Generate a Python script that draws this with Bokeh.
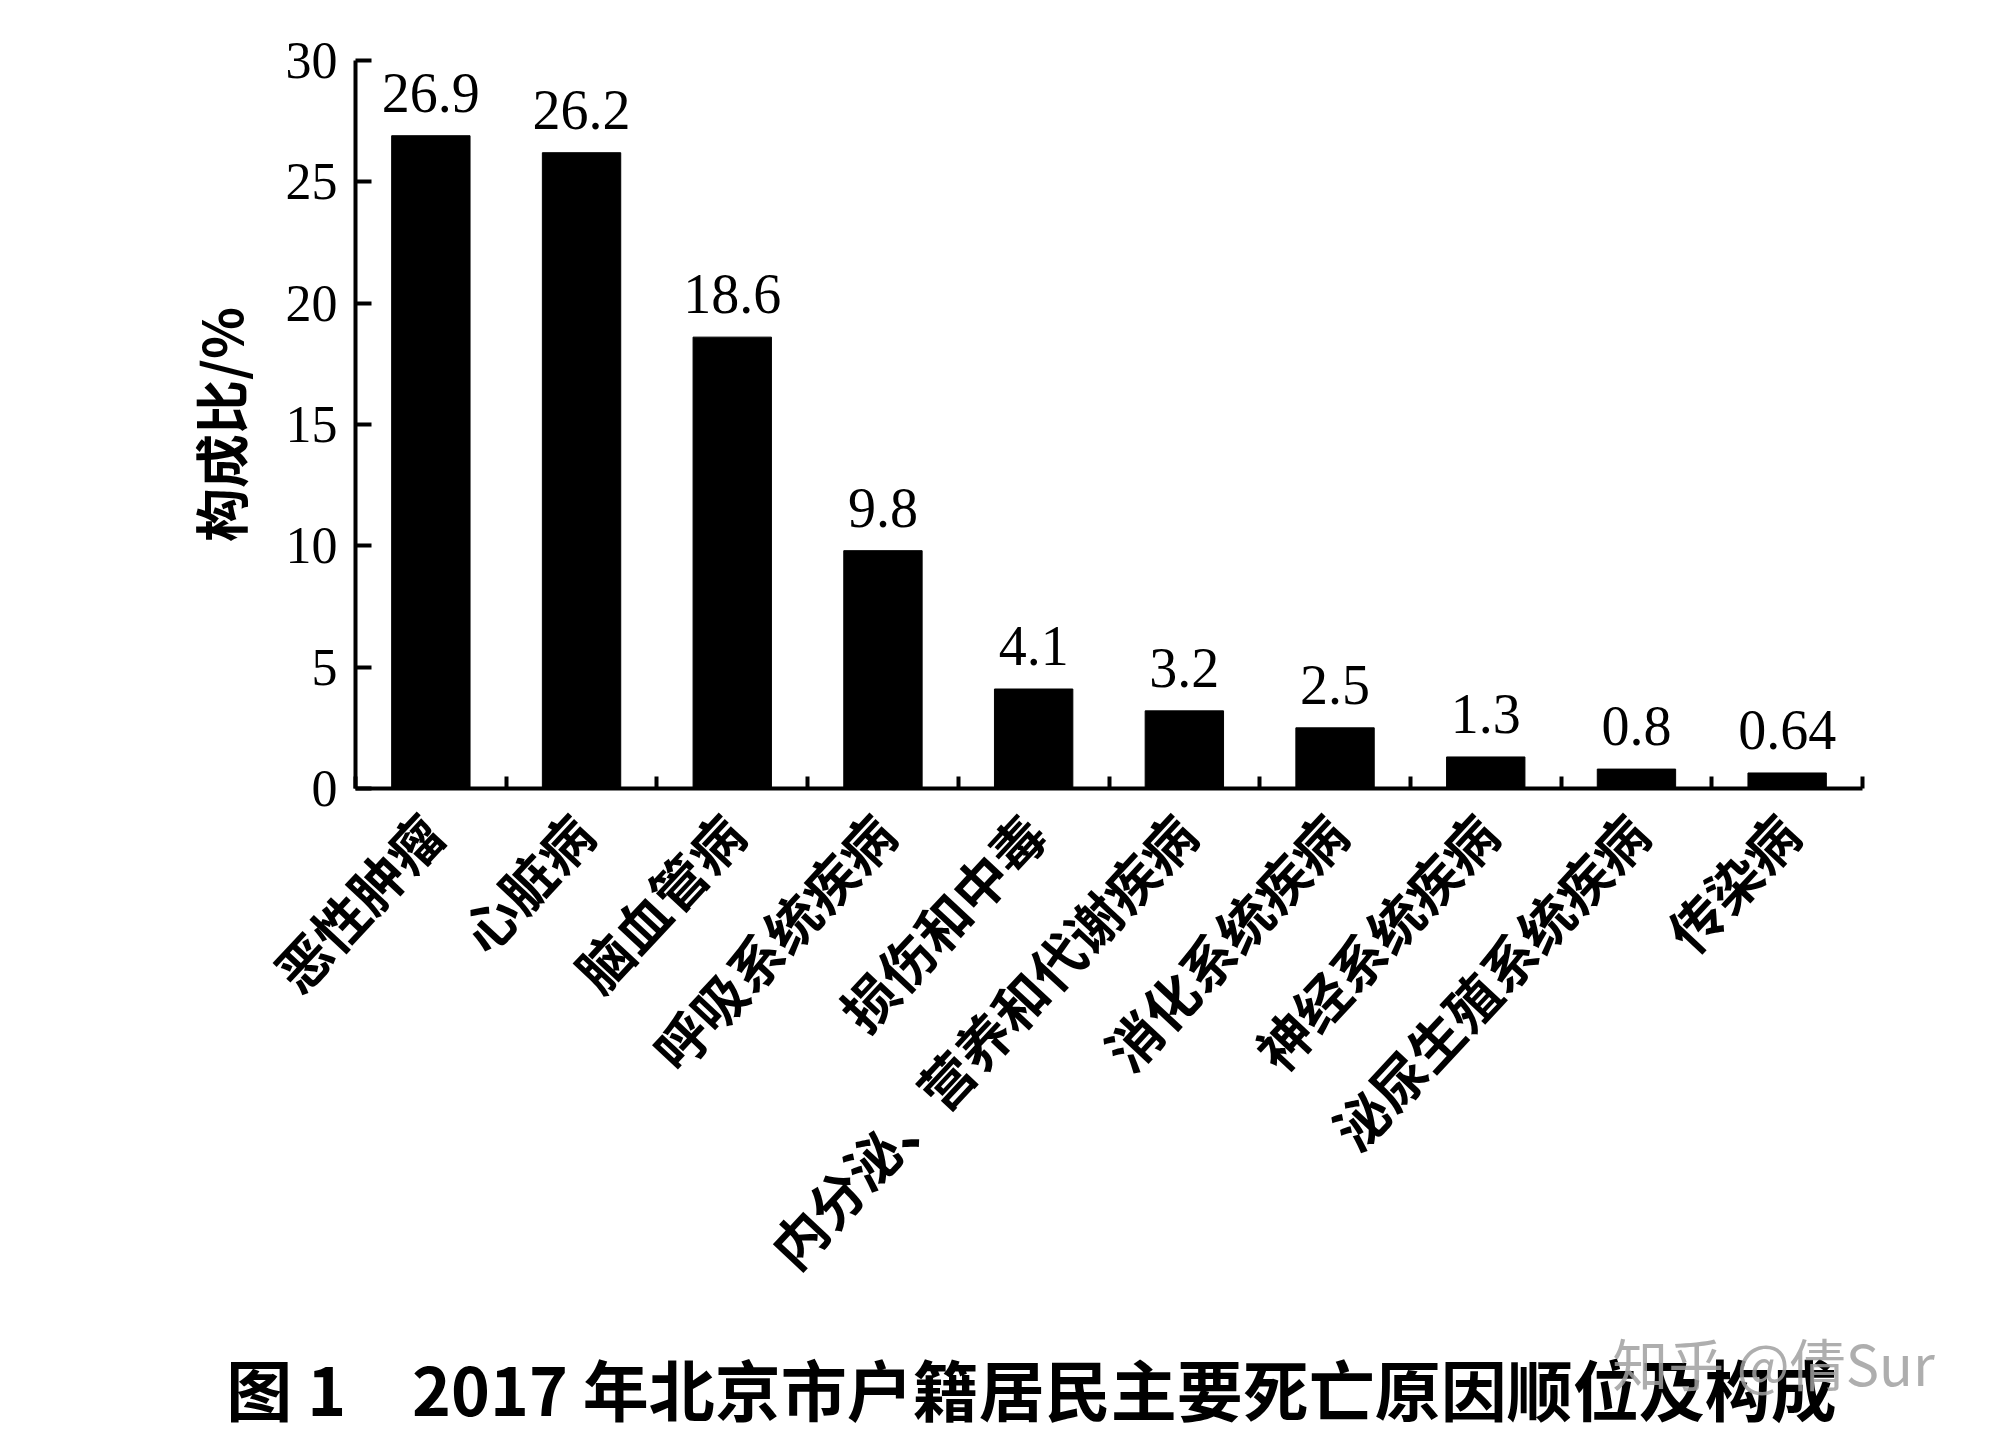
import math
from bokeh.plotting import figure
from bokeh.models import ColumnDataSource, FixedTicker, Range1d
from bokeh.core.properties import value
from bokeh.embed import file_html
from bokeh.resources import INLINE

# ---- data ----
categories = ["恶性肿瘤", "心脏病", "脑血管病", "呼吸系统疾病", "损伤和中毒",
              "内分泌、营养和代谢疾病", "消化系统疾病", "神经系统疾病",
              "泌尿生殖系统疾病", "传染病"]
values = [26.9, 26.2, 18.6, 9.8, 4.1, 3.2, 2.5, 1.3, 0.8, 0.64]
value_labels = ["26.9", "26.2", "18.6", "9.8", "4.1", "3.2", "2.5", "1.3", "0.8", "0.64"]
y_ticks = [0, 5, 10, 15, 20, 25, 30]
y_label = "构成比/%"
title_text = "图 1　2017 年北京市户籍居民主要死亡原因顺位及构成"
watermark_text = "知乎 @倩Sur"

n = len(categories)
centers = [i + 0.5 for i in range(n)]
boundaries = list(range(n + 1))

src = ColumnDataSource(dict(x=centers, v=values, lab=value_labels))

W = 1980
H1 = 1318
H2 = 120
p = figure(width=W, height=H1, x_range=Range1d(0, n), y_range=Range1d(0, y_ticks[-1]),
           output_backend="svg", toolbar_location=None,
           min_border_left=355, min_border_right=W - 1862, min_border_top=60,
           min_border_bottom=H1 - 788)
p.outline_line_color = None
p.xgrid.visible = False
p.ygrid.visible = False
p.background_fill_color = "white"
p.border_fill_color = "white"

p.vbar(x="x", top="v", width=0.52, source=src, fill_color="black", line_color="black")
p.text(x="x", y="v", text="lab", source=src, text_align="center",
       text_baseline="alphabetic", y_offset=-43,
       text_font=value("Liberation Serif"), text_font_size="56px", text_color="black")

# x axis
xa = p.xaxis[0]
xa.ticker = FixedTicker(ticks=centers, minor_ticks=boundaries)
xa.major_label_overrides = {c: cat for c, cat in zip(centers, categories)}
xa.major_label_orientation = math.radians(47)
xa.major_label_text_font = "Noto Sans CJK SC"
xa.major_label_text_font_style = "bold"
xa.major_label_text_font_size = "54px"
xa.major_label_text_color = "black"
xa.major_label_standoff = 34
xa.major_tick_in = 0
xa.major_tick_out = 0
xa.minor_tick_in = 12
xa.minor_tick_out = 0
xa.minor_tick_line_width = 4
xa.minor_tick_line_color = "black"
xa.axis_line_width = 4
xa.axis_line_color = "black"

# y axis
ya = p.yaxis[0]
ya.ticker = FixedTicker(ticks=y_ticks)
ya.major_tick_in = 16
ya.major_tick_out = 0
ya.major_tick_line_width = 4
ya.major_tick_line_color = "black"
ya.minor_tick_in = 0
ya.minor_tick_out = 0
ya.axis_line_width = 4
ya.axis_line_color = "black"
ya.major_label_standoff = 18
ya.major_label_text_font = "Liberation Serif"
ya.major_label_text_font_size = "52px"
ya.major_label_text_color = "black"
ya.axis_label = y_label
ya.axis_label_text_font = "Noto Sans CJK SC"
ya.axis_label_text_font_style = "bold"
ya.axis_label_text_font_size = "54px"
ya.axis_label_text_color = "black"
ya.axis_label_standoff = 24

# caption strip below the chart (separate root, full-width frame)
p2 = figure(width=W, height=H2, x_range=Range1d(0, W), y_range=Range1d(0, H2),
            output_backend="svg", toolbar_location=None,
            x_axis_type=None, y_axis_type=None, min_border=0)
p2.outline_line_color = None
p2.xgrid.visible = False
p2.ygrid.visible = False
p2.text(x=[1031], y=[H2 - 68], text=[title_text], text_align="center",
        text_baseline="middle", text_font=value("Noto Sans CJK SC"),
        text_font_style="bold", text_font_size="66px", text_color="black")
p2.text(x=[1773], y=[H2 - 43], text=[watermark_text], text_align="center",
        text_baseline="middle", text_font=value("Noto Sans CJK SC"),
        text_font_size="56px", text_color="#a0a0a0", text_alpha=0.85)

open("out.html", "w").write(file_html([p, p2], INLINE))
